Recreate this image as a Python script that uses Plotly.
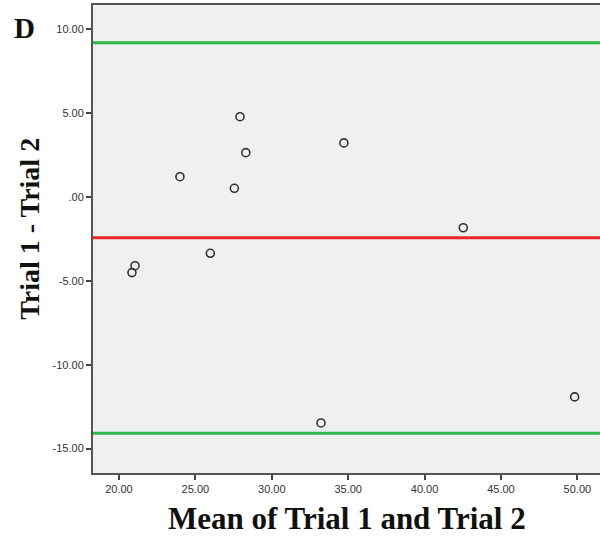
import plotly.graph_objects as go

# Data (Bland-Altman plot)
mean_trials = [27.92, 28.30, 23.99, 27.55, 34.72, 25.98, 21.05, 20.85, 42.53, 33.22, 49.82]
diff_trials = [4.76, 2.62, 1.19, 0.50, 3.20, -3.37, -4.11, -4.52, -1.85, -13.47, -11.92]
mean_diff = -2.44
upper_loa = 9.17
lower_loa = -14.08

x_ticks = [20, 25, 30, 35, 40, 45, 50]
x_ticktext = ["20.00", "25.00", "30.00", "35.00", "40.00", "45.00", "50.00"]
y_ticks = [-15, -10, -5, 0, 5, 10]
y_ticktext = ["-15.00", "-10.00", "-5.00", ".00", "5.00", "10.00"]

fig = go.Figure()
fig.add_trace(go.Scatter(
    x=mean_trials, y=diff_trials, mode="markers",
    marker=dict(symbol="circle-open", size=8, color="#333333", line=dict(width=1.6, color="#333333")),
    showlegend=False, cliponaxis=False,
))

fig.add_hline(y=upper_loa, line=dict(color="#2db84a", width=3))
fig.add_hline(y=lower_loa, line=dict(color="#2db84a", width=3))
fig.add_hline(y=mean_diff, line=dict(color="#e8262a", width=3))

tick_font = dict(family="Liberation Sans, Arial", size=11, color="#333333")
serif = "Liberation Serif, Times New Roman"

fig.update_layout(
    width=600, height=544,
    margin=dict(l=93, r=0, t=5, b=71),
    paper_bgcolor="white", plot_bgcolor="#f0f0f0",
    xaxis=dict(range=[18.30, 51.48], tickvals=x_ticks, ticktext=x_ticktext,
               showgrid=False, zeroline=False, showline=True, linecolor="#555555", linewidth=2,
               mirror=True, ticks="outside", ticklen=5, tickwidth=1.5, tickcolor="#444444",
               tickfont=tick_font),
    yaxis=dict(range=[-16.45, 11.41], tickvals=y_ticks, ticktext=y_ticktext,
               showgrid=False, zeroline=False, showline=True, linecolor="#555555", linewidth=2,
               ticks="outside", ticklen=5, tickwidth=1.5, tickcolor="#444444",
               tickfont=tick_font),
    annotations=[
        dict(text="<b>Mean of Trial 1 and Trial 2</b>", xref="paper", yref="paper",
             x=0.5, y=-0.098, xanchor="center", yanchor="middle", showarrow=False,
             font=dict(family=serif, size=31, color="#111111")),
        dict(text="<b>Trial 1 - Trial 2</b>", xref="paper", yref="paper",
             x=-0.124, y=0.522, xanchor="center", yanchor="middle", textangle=-90,
             showarrow=False, font=dict(family=serif, size=28, color="#111111")),
        dict(text="<b>D</b>", xref="paper", yref="paper",
             x=-0.16, y=0.951, xanchor="left", yanchor="middle", showarrow=False,
             font=dict(family=serif, size=29, color="#111111")),
    ],
)

fig.write_html("out.html")
